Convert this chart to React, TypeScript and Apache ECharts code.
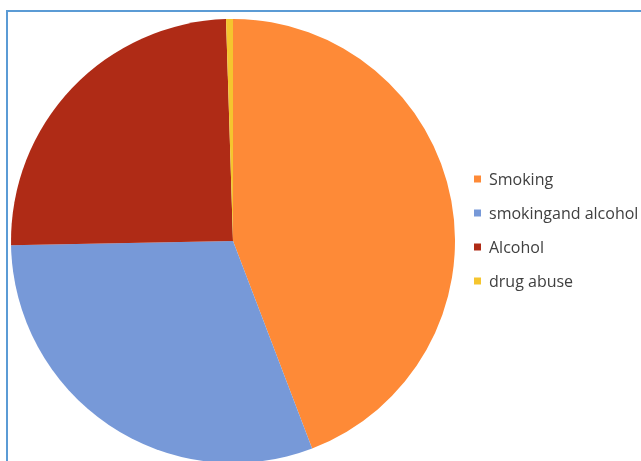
import React, { useEffect, useRef } from "react";
import * as echarts from "echarts";

const categories = ["Smoking", "smokingand alcohol", "Alcohol", "drug abuse"];
const values = [44.2, 30.5, 24.8, 0.5];
const colors = ["#FE8A37", "#7799D8", "#AF2B16", "#F5C52E"];

export default function App() {
  const ref = useRef<HTMLDivElement>(null);
  useEffect(() => {
    if (!ref.current) return;
    const chart = echarts.init(ref.current, undefined, { renderer: "svg" });
    chart.setOption({
      animation: false,
      graphic: [
        {
          type: "rect",
          shape: { x: 7, y: 11, width: 700, height: 500 },
          style: { fill: "none", stroke: "#5B9BD5", lineWidth: 2 },
          silent: true,
        },
      ],
      legend: {
        orient: "vertical",
        left: 469,
        top: 166,
        itemWidth: 7,
        itemHeight: 7,
        itemGap: 18,
        icon: "rect",
        data: categories,
        textStyle: {
          fontFamily: "Open Sans",
          fontSize: 16,
          color: "#404040",
          padding: [0, 0, 0, 3],
        },
      },
      series: [
        {
          type: "pie",
          center: [233, 241],
          radius: 222,
          startAngle: 90,
          clockwise: true,
          label: { show: false },
          labelLine: { show: false },
          silent: true,
          data: categories.map((c, i) => ({
            name: c,
            value: values[i],
            itemStyle: { color: colors[i] },
          })),
        },
      ],
    });
    return () => chart.dispose();
  }, []);
  return (
    <div
      ref={ref}
      style={{ position: "fixed", left: 0, top: 0, width: 641, height: 461 }}
    />
  );
}
